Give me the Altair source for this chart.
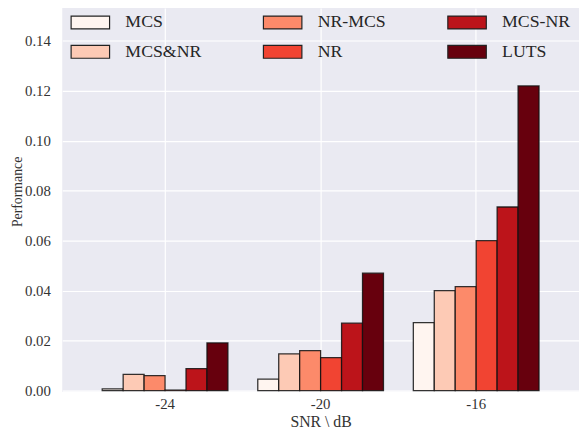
import altair as alt
import pandas as pd

snr_levels = ["-24", "-20", "-16"]
methods = ["MCS", "MCS&NR", "NR-MCS", "NR", "MCS-NR", "LUTS"]
method_colors = ["#fff5f0", "#fdcab5", "#fc8a6a", "#f14432", "#bc141a", "#67000d"]

perf_m24 = [0.0007, 0.0065, 0.0060, 0.0002, 0.0088, 0.0191]
perf_m20 = [0.0046, 0.0147, 0.0160, 0.0132, 0.0270, 0.0470]
perf_m16 = [0.0272, 0.0400, 0.0416, 0.0600, 0.0735, 0.1220]

y_ticks = [0.00, 0.02, 0.04, 0.06, 0.08, 0.10, 0.12, 0.14]

rows = []
for snr, vals in zip(snr_levels, [perf_m24, perf_m20, perf_m16]):
    for m, v in zip(methods, vals):
        rows.append({"snr": snr, "method": m, "perf": v})
df = pd.DataFrame(rows)

FONT = "Liberation Serif"

chart = alt.Chart(df).mark_bar(
    stroke="#111111", strokeWidth=1.3, strokeOpacity=0.85
).encode(
    x=alt.X("snr:N", sort=snr_levels,
            scale=alt.Scale(paddingInner=0.192, paddingOuter=0.257),
            axis=alt.Axis(title="SNR \\ dB", labelAngle=0, bandPosition=0.5,
                          labelPadding=5, titlePadding=2, titleFontSize=16)),
    xOffset=alt.XOffset("method:N", sort=methods,
                        scale=alt.Scale(paddingInner=0, paddingOuter=0)),
    y=alt.Y("perf:Q",
            scale=alt.Scale(domain=[-0.0006, 0.1532], nice=False, zero=False),
            axis=alt.Axis(title="Performance", values=y_ticks, format=".2f",
                          labelPadding=12, titleFontSize=14,
                          titleX=-45, titleY=186, titleBaseline="middle",
                          titleAlign="center", titleAngle=270)),
    color=alt.Color("method:N",
                    scale=alt.Scale(domain=methods, range=method_colors),
                    legend=alt.Legend(
                        title=None, orient="none", legendX=8, legendY=-6,
                        columns=3, columnPadding=59, rowPadding=-15.5,
                        symbolType="M-1,-0.333H1V0.333H-1Z", symbolSize=1521,
                        symbolStrokeColor="#222222", symbolStrokeWidth=1.2,
                        symbolOpacity=1,
                        labelFont=FONT, labelFontSize=18, labelColor="#262626",
                        labelOffset=15, padding=0)),
).properties(
    width=524, height=389.5,
    background="#ffffff",
    autosize=alt.AutoSizeParams(type="none"),
    padding={"left": 55, "top": -3, "right": 0, "bottom": 36},
).configure_view(
    fill="#EAEAF2", strokeWidth=0
).configure_axis(
    grid=True, gridColor="#ffffff", gridWidth=1.2,
    domain=False, ticks=False,
    labelFont=FONT, labelFontSize=15, labelColor="#333333",
    titleFont=FONT, titleColor="#333333", titleFontWeight="normal",
)

chart.save("out.html", embed_options={"renderer": "svg", "actions": False})
